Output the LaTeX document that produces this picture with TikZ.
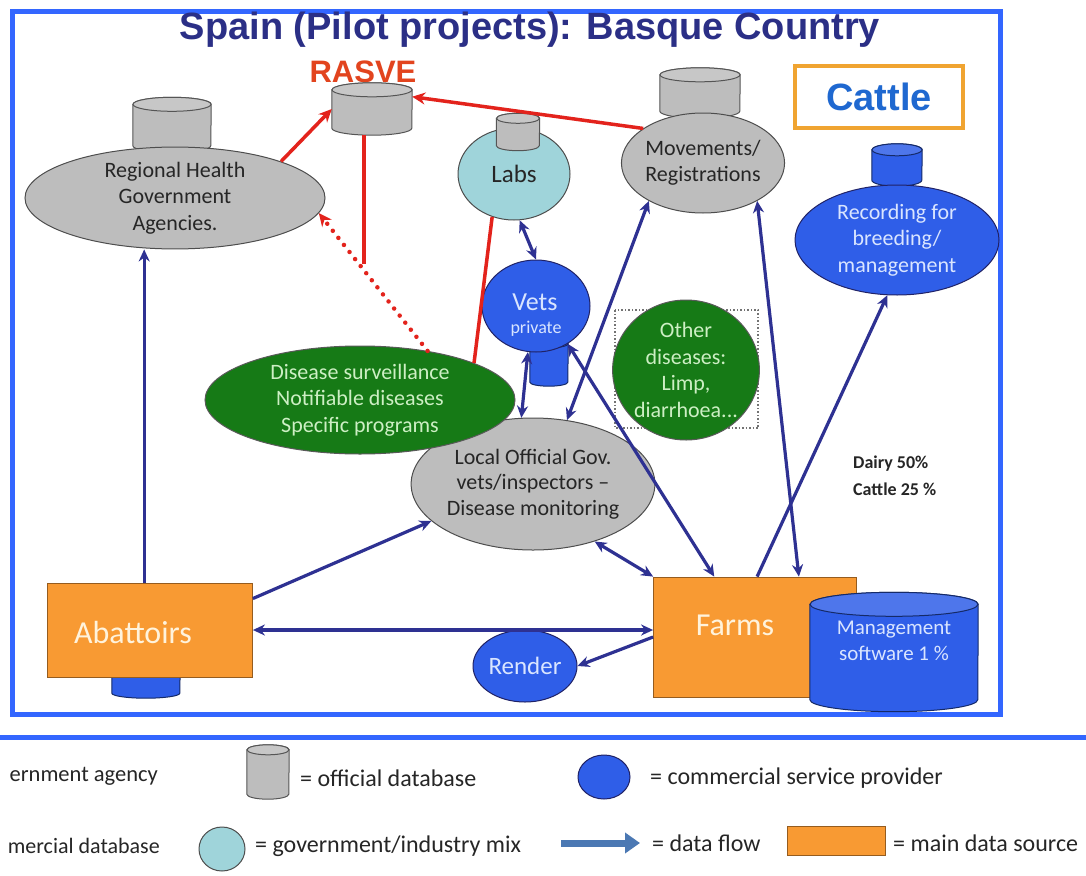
\documentclass[tikz,border=0pt]{standalone}
\usepackage{fontspec}
\setmainfont{Carlito}
\newfontfamily\arialf{Liberation Sans}
\usetikzlibrary{arrows.meta,shapes.geometric,calc}
\definecolor{frameblue}{HTML}{3366FF}
\definecolor{navy}{HTML}{2E3192}
\definecolor{titlenavy}{HTML}{2B2F86}
\definecolor{dbgrey}{HTML}{BDBDBD}
\definecolor{edgegrey}{HTML}{4D4D4D}
\definecolor{labblue}{HTML}{9FD4DA}
\definecolor{provblue}{HTML}{2F5EE8}
\definecolor{provtext}{HTML}{D9E5FF}
\definecolor{dgreen}{HTML}{167A16}
\definecolor{gtext}{HTML}{CDEFC4}
\definecolor{srcorange}{HTML}{F89A33}
\definecolor{srctext}{HTML}{FFF3DC}
\definecolor{rasvered}{HTML}{E3231C}
\definecolor{rasvetxt}{HTML}{E2441E}
\definecolor{cattleblue}{HTML}{1F68D0}
\definecolor{cattlebox}{HTML}{F0A431}
\definecolor{legarrow}{HTML}{4B78B3}
\newcommand{\dbcyl}[7]{% name, x, y, width, height, fill, top radius
  \node[inner sep=0pt, minimum width=#4pt, minimum height=#5pt] (#1) at (#2,#3) {};
  \pgfmathsetmacro{\cylrx}{#4/2}
  \draw[draw=#6!45!black, line width=1pt, fill=#6]
    ([yshift=-#7pt]#1.north west) -- ([yshift=#7pt]#1.south west)
    arc[start angle=180, end angle=360, x radius=\cylrx pt, y radius=#7pt]
    -- ([yshift=-#7pt]#1.north east)
    arc[start angle=0, end angle=180, x radius=\cylrx pt, y radius=#7pt] -- cycle;
  \draw[draw=#6!45!black, line width=1pt, fill=#6!85!white]
    ([yshift=-#7pt]#1.north) ellipse[x radius=\cylrx pt, y radius=#7pt];
}
\tikzset{
  ell/.style={ellipse, inner sep=0pt, line width=1pt, align=center},
  gov/.style={ell, fill=dbgrey, draw=edgegrey, text=black!85},
  prov/.style={ell, fill=provblue, draw=navy!70!black, text=provtext},
  mix/.style={ell, fill=labblue, draw=edgegrey, text=black!85},
  dis/.style={ell, fill=dgreen, draw=black!65, text=gtext},
  src/.style={rectangle, inner sep=0pt, fill=srcorange, draw=srcorange!60!black, line width=0.8pt},
  lbl/.style={font=\fontsize{22}{26.5}\selectfont},
  srclbl/.style={font=\fontsize{32}{34}\selectfont, text=srctext},
  legtxt/.style={anchor=west, font=\fontsize{24}{27}\selectfont, text=black!85, inner sep=0pt},
  flow/.style={draw=navy, line width=3.2pt, -{Stealth[length=12pt,width=11pt]}},
  biflow/.style={draw=navy, line width=3.2pt, {Stealth[length=12pt,width=11pt]}-{Stealth[length=12pt,width=11pt]}},
  redline/.style={draw=rasvered, line width=3.5pt},
  redflow/.style={redline, -{Stealth[length=13pt,width=12pt]}},
  reddot/.style={draw=rasvered, line width=4.5pt, line cap=round, dash pattern=on 0pt off 9pt, -{Stealth[length=13pt,width=12pt]}},
}
\begin{document}
\begin{tikzpicture}[x=1pt,y=-1pt]
\useasboundingbox (0,0) rectangle (1086,875);
\fill[white] (0,0) rectangle (1086,875);
% frame
\draw[frameblue, line width=5pt] (12,12) rectangle (1000,714);
\draw[frameblue, line width=5pt] (0,737) -- (1086,737);
% title
\node[anchor=base, inner sep=0pt, font=\arialf\bfseries\fontsize{38}{40}\selectfont, text=titlenavy] (title) at (530,40) {Spain (Pilot projects): Basque Country};
\node[anchor=base, inner sep=0pt, font=\arialf\bfseries\fontsize{31}{33}\selectfont, text=rasvetxt] (rasvelbl) at (363,82) {RASVE};
\node[draw=cattlebox, line width=4pt, minimum width=168pt, minimum height=62pt, inner sep=0pt, text=cattleblue, font=\arialf\bfseries\fontsize{38}{40}\selectfont] (cattle) at (879,97) {Cattle};
% databases on top
\dbcyl{rhdb}{172}{125}{78}{55}{dbgrey}{7}
\dbcyl{rasve}{372}{109}{80}{52}{dbgrey}{7}
\dbcyl{movdb}{700}{93}{80}{50}{dbgrey}{7}
\dbcyl{recdb}{897}{165}{50}{42}{provblue}{6}
% main ellipses
\node[gov, lbl, minimum width=300pt, minimum height=94pt] (rh) at (175,198) {Regional Health\\Government\\Agencies.};
\node[mix, font=\fontsize{25}{28}\selectfont, minimum width=112pt, minimum height=92pt] (labs) at (514,174) {Labs};
\dbcyl{labsdb}{518}{132}{43}{37}{dbgrey}{5}
\node[gov, lbl, minimum width=162pt, minimum height=100pt] (mov) at (703,163) {Movements/\\Registrations};
\node[prov, lbl, minimum width=204pt, minimum height=110pt] (rec) at (897,240) {Recording for\\breeding/\\management};
% vets
\dbcyl{vetsdb}{549}{363}{38}{46}{provblue}{4}
\node[prov, minimum width=108pt, minimum height=92pt] (vets) at (536,306) {};
\node[inner sep=0pt, text=provtext, font=\fontsize{26}{28}\selectfont] (vetstxt) at (535,302) {Vets};
\node[inner sep=0pt, text=provtext, font=\fontsize{18}{20}\selectfont] (privtxt) at (536,329) {private};
% other diseases
\draw[black!55, line width=1.3pt, dash pattern=on 1.5pt off 2pt] (615,310) rectangle (758,428);
\node[dis, lbl, minimum width=146pt, minimum height=140pt] (other) at (686,370) {Other\\diseases:\\Limp,\\diarrhoea...};
% local + disease surveillance
\node[gov, lbl, font=\fontsize{22}{25.5}\selectfont, minimum width=226pt, minimum height=132pt] (local) at (533,484) {Local Official Gov.\\vets/inspectors --\\Disease monitoring};
\node[dis, lbl, minimum width=310pt, minimum height=108pt] (ds) at (360,400) {Disease surveillance\\Notifiable diseases\\Specific programs};
\node[anchor=west, align=left, inner sep=0pt, font=\bfseries\fontsize{18}{27}\selectfont, text=black!85] (dairy) at (853,476) {Dairy 50\%\\Cattle 25 \%};
% sources
\dbcyl{abatdb}{146}{680}{68}{36}{provblue}{5}
\node[src, minimum width=205pt, minimum height=94pt] (abat) at (150,630) {};
\node[srclbl] (abattxt) at (133,632) {Abattoirs};
\node[src, minimum width=203pt, minimum height=120pt] (farms) at (755,637) {};
\node[srclbl] (farmstxt) at (735,625) {Farms};
\dbcyl{msw}{894}{652}{168}{119}{provblue}{12}
\node[align=center, font=\fontsize{21}{26}\selectfont, text=provtext] (mswtxt) at (894,641) {Management\\software 1 \%};
\node[prov, font=\fontsize{25}{28}\selectfont, minimum width=104pt, minimum height=72pt] (render) at (525,666) {Render};
% red connectors
\draw[redflow] (mov.150) -- (rasve.17);
\draw[redflow] (rh.19) -- (rasve.west);
\coordinate (rasvefree) at (364,264);
\draw[redline] (rasve.south -| rasvefree) -- (rasvefree);
\draw[redline] (labs.243) -- (ds.18);
\draw[reddot] (ds.36) -- (rh.-6);
% blue connectors
\draw[biflow] (labs.-83) -- (vets.90);
\draw[biflow] (vets.-100) -- (local.100);
\draw[biflow] (local.62) -- (mov.215);
\draw[biflow] (vets.-50) -- (farms.124);
\draw[biflow] (farms.54) -- (mov.-35);
\draw[flow] (farms.88) -- (rec.-100);
\draw[biflow] (local.-43) -- (farms.north west);
\draw[flow] (abat.17) -- (local.200);
\draw[biflow] (abat.east) -- (abat.east -| farms.west);
\draw[flow] (farms.west) -- (render.0);
\draw[flow] (abat.97) -- (abat.97 |- rh.south);
% legend
\node[legtxt, anchor=east, font=\fontsize{22.5}{26}\selectfont] (leg1) at (158,776) {ernment agency};
\dbcyl{legdb}{268}{772}{42}{54}{dbgrey}{5}
\node[legtxt] (leg2) at (300,778) {= official database};
\node[prov, minimum width=52pt, minimum height=44pt] (legprov) at (604,777) {};
\node[legtxt] (leg3) at (650,778) {= commercial service provider};
\node[legtxt, anchor=east, font=\fontsize{22}{26}\selectfont] (leg4) at (160,846) {mercial database};
\node[mix, minimum width=46pt, minimum height=44pt] (legmix) at (222,849) {};
\node[legtxt] (leg5) at (255,846) {= government/industry mix};
\coordinate (la1) at (561,843);
\coordinate (la2) at (640,843);
\draw[legarrow, line width=7pt, -{Triangle[length=15pt,width=20pt]}] (la1) -- (la2);
\node[legtxt] (leg6) at (652,843) {= data flow};
\node[src, minimum width=98pt, minimum height=29pt] (legsrc) at (836,841) {};
\node[legtxt] (leg7) at (893,843) {= main data source};
\end{tikzpicture}
\end{document}
